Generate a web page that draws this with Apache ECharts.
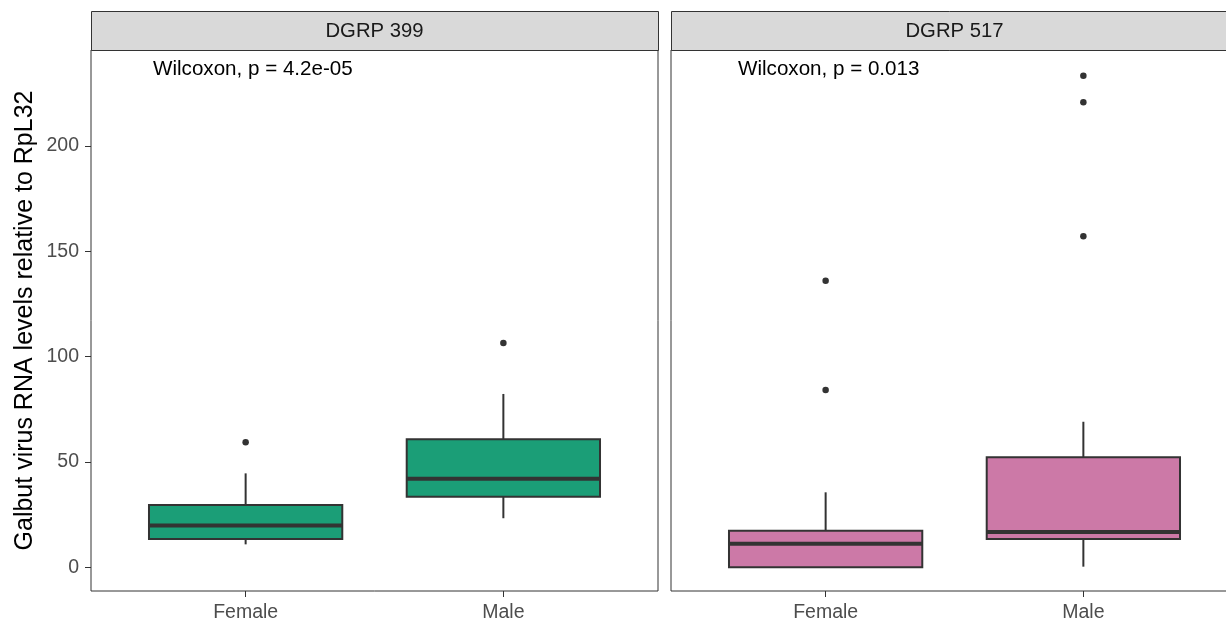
<!DOCTYPE html>
<html>
<head>
<meta charset="utf-8">
<script src="https://cdn.jsdelivr.net/npm/echarts@6/dist/echarts.min.js"></script>
<style>
  html, body { margin: 0; padding: 0; background: #fff; }
  #chart { width: 1226px; height: 621px; }
</style>
</head>
<body>
<div id="chart"></div>
<script>
// Facet titles, groups and test annotations
const panels = ['DGRP 399', 'DGRP 517'];
const groups = ['Female', 'Male'];
const pLabels = ['Wilcoxon, p = 4.2e-05', 'Wilcoxon, p = 0.013'];

// Box summaries per group: [lower whisker, Q1, median, Q3, upper whisker]
const boxes399 = [[10.9, 13.4, 19.8, 29.6, 44.6], [23.3, 33.5, 42.1, 60.8, 82.3]];
const boxes517 = [[0, 0, 11.2, 17.4, 35.6], [0.3, 13.4, 16.8, 52.2, 69.1]];

// Outlying points: [group position, value]
const outliers399 = [[1, 59.4], [2, 106.5]];
const outliers517 = [[1, 84.2], [1, 136.0], [2, 157.2], [2, 220.8], [2, 233.4]];

const yTicks = [0, 50, 100, 150, 200];
const fills = ['#1b9e77', '#cc79a7'];

const FONT = '"Liberation Sans", Arial, Helvetica, sans-serif';
const INK = '#333333';

const panelLeft = [91, 671];
const panelWidth = 567;
const panelTop = 50;
const panelHeight = 541;

function boxRenderer(fill) {
  return function (params, api) {
    const x = api.value(0);
    const lo = api.coord([x, api.value(1)]);
    const q1 = api.coord([x, api.value(2)]);
    const md = api.coord([x, api.value(3)]);
    const q3 = api.coord([x, api.value(4)]);
    const hi = api.coord([x, api.value(5)]);
    const half = api.size([0.375, 0])[0];
    const cx = lo[0];
    const line = { stroke: INK, lineWidth: 2 };
    return {
      type: 'group',
      children: [
        { type: 'line', shape: { x1: cx, y1: hi[1], x2: cx, y2: q3[1] }, style: line },
        { type: 'line', shape: { x1: cx, y1: q1[1], x2: cx, y2: lo[1] }, style: line },
        { type: 'rect', shape: { x: cx - half, y: q3[1], width: 2 * half, height: q1[1] - q3[1] },
          style: { fill: fill, stroke: INK, lineWidth: 2 } },
        { type: 'line', shape: { x1: cx - half, y1: md[1], x2: cx + half, y2: md[1] },
          style: { stroke: INK, lineWidth: 4 } }
      ]
    };
  };
}

function xAxisFor(i) {
  return {
    gridIndex: i, type: 'value', min: 0.4, max: 2.6,
    splitLine: { show: false },
    axisLine: { show: false, onZero: false },
    axisTick: { show: true, customValues: [1, 2], length: 6, lineStyle: { color: INK, width: 1 } },
    axisLabel: {
      customValues: [1, 2], formatter: v => groups[Math.round(v) - 1],
      color: '#4d4d4d', fontSize: 19.5, fontFamily: FONT, margin: 12
    }
  };
}

function yAxisFor(i) {
  const ax = {
    gridIndex: i, type: 'value', min: -11.25, max: 245.6,
    splitLine: { show: false },
    axisLine: { show: false, onZero: false },
    axisTick: { show: i === 0, customValues: yTicks, length: 6, lineStyle: { color: INK, width: 1 } },
    axisLabel: {
      show: i === 0, customValues: yTicks,
      color: '#4d4d4d', fontSize: 19.5, fontFamily: FONT, margin: 12
    }
  };
  if (i === 0) {
    ax.name = 'Galbut virus RNA levels relative to RpL32';
    ax.nameLocation = 'middle';
    ax.nameGap = 53;
    ax.nameRotate = 90;
    ax.nameTextStyle = { color: '#000', fontSize: 25, fontFamily: FONT };
  }
  return ax;
}

const boxSets = [boxes399, boxes517];
const outlierSets = [outliers399, outliers517];

const series = [];
[0, 1].forEach(i => {
  series.push({
    type: 'custom', xAxisIndex: i, yAxisIndex: i,
    renderItem: boxRenderer(fills[i]),
    encode: { x: 0, y: [1, 2, 3, 4, 5] },
    data: boxSets[i].map((b, g) => [g + 1].concat(b)),
    silent: true, z: 2
  });
  series.push({
    type: 'scatter', xAxisIndex: i, yAxisIndex: i,
    symbol: 'circle', symbolSize: 6.5,
    itemStyle: { color: INK, opacity: 1 },
    data: outlierSets[i],
    silent: true, z: 3
  });
});

// Facet strips and test annotations
const graphic = [];
[0, 1].forEach(i => {
  graphic.push({
    type: 'rect', left: panelLeft[i], top: 11,
    shape: { x: 0, y: 0, width: panelWidth, height: 39 },
    style: { fill: '#d9d9d9', stroke: INK, lineWidth: 1 }, z: 10
  });
  graphic.push({
    type: 'text', x: panelLeft[i] + panelWidth / 2, y: 31,
    style: { text: panels[i], fill: '#1a1a1a', font: '20.3px ' + FONT, align: 'center', verticalAlign: 'middle' },
    z: 11
  });
});
graphic.push({
  type: 'text', x: 153, y: 69,
  style: { text: pLabels[0], fill: '#000', font: '20.6px ' + FONT, align: 'left', verticalAlign: 'middle' }, z: 11
});
graphic.push({
  type: 'text', x: 738, y: 69,
  style: { text: pLabels[1], fill: '#000', font: '20.6px ' + FONT, align: 'left', verticalAlign: 'middle' }, z: 11
});

const chart = echarts.init(document.getElementById('chart'), null, { renderer: 'canvas' });
chart.setOption({
  animation: false,
  backgroundColor: '#fff',
  grid: [0, 1].map(i => ({
    left: panelLeft[i], top: panelTop, width: panelWidth, height: panelHeight,
    show: true, borderColor: INK, borderWidth: 1, backgroundColor: 'transparent',
    containLabel: false, outerBoundsMode: 'none'
  })),
  xAxis: [xAxisFor(0), xAxisFor(1)],
  yAxis: [yAxisFor(0), yAxisFor(1)],
  series: series,
  graphic: graphic
});
</script>
</body>
</html>
